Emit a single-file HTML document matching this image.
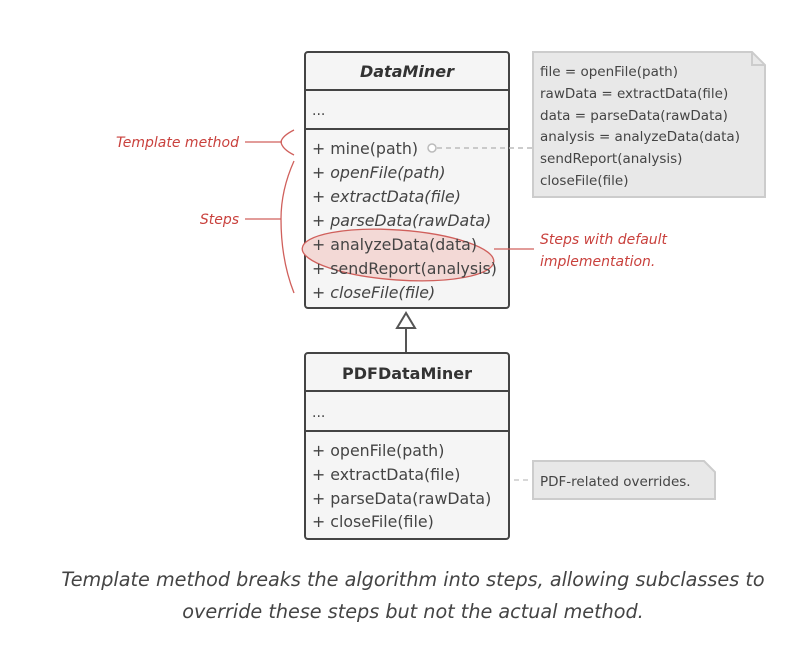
<!DOCTYPE html>
<html><head><meta charset="utf-8"><style>
body{margin:0;background:#fff;width:797px;height:641px;overflow:hidden;font-family:"DejaVu Sans","Liberation Sans",sans-serif}
svg text{font-family:"DejaVu Sans","Liberation Sans",sans-serif}
</style></head><body>
<svg width="797" height="641" viewBox="0 0 797 641">
<g>
<rect x="305" y="52" width="204" height="256" rx="3" fill="#f5f5f5" stroke="#444" stroke-width="2"/>
<line x1="305" y1="90" x2="509" y2="90" stroke="#444" stroke-width="2"/>
<line x1="305" y1="129" x2="509" y2="129" stroke="#444" stroke-width="2"/>
<text x="407" y="77" text-anchor="middle" font-size="16" font-weight="bold" font-style="italic" fill="#333">DataMiner</text>
<text x="312" y="115" font-size="14" fill="#444">...</text>
<ellipse cx="398" cy="255" rx="96" ry="25" fill="#f3d9d6" stroke="#d0605c" stroke-width="1.3" transform="rotate(4 398 255)"/>
<g font-size="15.8" fill="#444">
<text x="312" y="154">+ mine(path)</text>
<text x="312" y="178" font-style="italic">+ openFile(path)</text>
<text x="312" y="202" font-style="italic">+ extractData(file)</text>
<text x="312" y="226" font-style="italic">+ parseData(rawData)</text>
<text x="312" y="250">+ analyzeData(data)</text>
<text x="312" y="274">+ sendReport(analysis)</text>
<text x="312" y="298" font-style="italic">+ closeFile(file)</text>
</g>
</g>
<g>
<line x1="406" y1="328" x2="406" y2="353" stroke="#555" stroke-width="2"/>
<polygon points="406,313 397,328 415,328" fill="#fff" stroke="#555" stroke-width="2"/>
</g>
<g>
<rect x="305" y="353" width="204" height="186" rx="3" fill="#f5f5f5" stroke="#444" stroke-width="2"/>
<line x1="305" y1="391" x2="509" y2="391" stroke="#444" stroke-width="2"/>
<line x1="305" y1="431" x2="509" y2="431" stroke="#444" stroke-width="2"/>
<text x="407" y="379" text-anchor="middle" font-size="16" font-weight="bold" fill="#333">PDFDataMiner</text>
<text x="312" y="417" font-size="14" fill="#444">...</text>
<g font-size="15.8" fill="#444">
<text x="312" y="456">+ openFile(path)</text>
<text x="312" y="480">+ extractData(file)</text>
<text x="312" y="504">+ parseData(rawData)</text>
<text x="312" y="527">+ closeFile(file)</text>
</g>
</g>
<g>
<circle cx="432" cy="148" r="4" fill="#fff" stroke="#bbb" stroke-width="1.5"/>
<line x1="437" y1="148" x2="533" y2="148" stroke="#bbb" stroke-width="1.5" stroke-dasharray="5,4"/>
<path d="M533,52 H752 L765,65 V197 H533 Z" fill="#e8e8e8" stroke="#ccc" stroke-width="2"/>
<path d="M752,52 V65 H765" fill="none" stroke="#ccc" stroke-width="2"/>
<g font-size="13.5" fill="#444">
<text x="540" y="76">file = openFile(path)</text>
<text x="540" y="98">rawData = extractData(file)</text>
<text x="540" y="120">data = parseData(rawData)</text>
<text x="540" y="141">analysis = analyzeData(data)</text>
<text x="540" y="163">sendReport(analysis)</text>
<text x="540" y="185">closeFile(file)</text>
</g>
</g>
<g>
<line x1="514" y1="480" x2="533" y2="480" stroke="#ccc" stroke-width="1.5" stroke-dasharray="5,4"/>
<path d="M533,461 H704 L715,472 V499 H533 Z" fill="#e8e8e8" stroke="#ccc" stroke-width="2"/>
<text x="540" y="486" font-size="13.5" fill="#444">PDF-related overrides.</text>
</g>
<g fill="#c9413d" font-size="14" font-style="italic">
<text x="239" y="147" text-anchor="end">Template method</text>
<line x1="245" y1="142" x2="282" y2="142" stroke="#d0605c" stroke-width="1.3"/>
<path d="M294,130 Q282,136 281,142 Q282,149 294,155" fill="none" stroke="#d0605c" stroke-width="1.3"/>
<text x="239" y="224" text-anchor="end">Steps</text>
<line x1="245" y1="219" x2="281" y2="219" stroke="#d0605c" stroke-width="1.3"/>
<path d="M294,161 Q281,190 281,219 Q281,260 294,293" fill="none" stroke="#d0605c" stroke-width="1.3"/>
<line x1="494" y1="249" x2="534" y2="249" stroke="#d0605c" stroke-width="1.3"/>
<text x="540" y="244">Steps with default</text>
<text x="540" y="266">implementation.</text>
</g>
<g font-size="19.2" font-style="italic" fill="#444" text-anchor="middle">
<text x="413" y="586">Template method breaks the algorithm into steps, allowing subclasses to</text>
<text x="413" y="618">override these steps but not the actual method.</text>
</g>
</svg>
</body></html>
